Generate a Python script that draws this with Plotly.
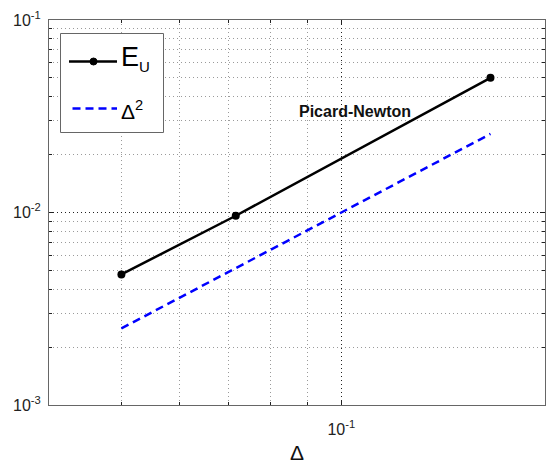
import math
import plotly.graph_objects as go

# Mesh size and measured error (log-log convergence study)
delta = [0.05, 0.0717, 0.16]
error_u = [0.00477, 0.00962, 0.0501]
# Reference slope-2 line: delta squared
delta_sq = [0.0025, 0.00514, 0.0256]

x_range = [0.0398, 0.19]
y_range = [1e-3, 1e-1]
x_major = [0.1]
x_major_text = ["10<sup>-1</sup>"]
y_major = [1e-3, 1e-2, 1e-1]
y_major_text = ["10<sup>-3</sup>", "10<sup>-2</sup>", "10<sup>-1</sup>"]
x_minor = [0.05, 0.06, 0.07, 0.08, 0.09]
y_minor = [2e-3, 3e-3, 4e-3, 5e-3, 6e-3, 7e-3, 8e-3, 9e-3,
           2e-2, 3e-2, 4e-2, 5e-2, 6e-2, 7e-2, 8e-2, 9e-2]

FONT = "Liberation Sans, Arial, Helvetica, sans-serif"

fig = go.Figure()
fig.add_trace(go.Scatter(
    x=delta, y=error_u, mode="lines+markers", name="E_U",
    line=dict(color="black", width=2.5),
    marker=dict(color="black", size=8),
))
fig.add_trace(go.Scatter(
    x=delta, y=delta_sq, mode="lines", name="Δ²",
    line=dict(color="#0000ff", width=2.5, dash="8px,5px"),
))

axis_common = dict(
    type="log",
    showline=True, linecolor="#666666", linewidth=1, mirror="allticks",
    ticks="inside", ticklen=5, tickcolor="#222222",
    showgrid=True, gridcolor="#222222", gridwidth=1, griddash="1px,3px",
    zeroline=False,
    tickfont=dict(family=FONT, size=16, color="#222222"),
)

fig.update_xaxes(
    **axis_common,
    range=[math.log10(x_range[0]), math.log10(x_range[1])],
    tickmode="array", tickvals=x_major, ticktext=x_major_text,
    ticklabelstandoff=10,
    minor=dict(tickmode="array", tickvals=x_minor, ticks="inside", ticklen=3,
               tickcolor="#222222", showgrid=True, gridcolor="#9a9a9a",
               griddash="1px,3px", gridwidth=1),
    title=dict(text="Δ", font=dict(family=FONT, size=21, color="#111111"), standoff=10),
)
fig.update_yaxes(
    **axis_common,
    range=[math.log10(y_range[0]), math.log10(y_range[1])],
    tickmode="array", tickvals=y_major, ticktext=y_major_text,
    ticklabelstandoff=4,
    minor=dict(tickmode="array", tickvals=y_minor, ticks="inside", ticklen=3,
               tickcolor="#222222", showgrid=True, gridcolor="#9a9a9a",
               griddash="1px,3px", gridwidth=1),
)

# Hand-drawn legend box in the upper-left corner of the axes
def px_x(p):
    return (p - 49) / 496.0

def px_y(p):
    return (405 - p) / 385.0

shapes = [
    dict(type="rect", xref="paper", yref="paper",
         x0=px_x(60.5), x1=px_x(163.5), y0=px_y(132.5), y1=px_y(33.5),
         line=dict(color="#666666", width=1), fillcolor="white", layer="above"),
    dict(type="line", xref="paper", yref="paper",
         x0=px_x(69), x1=px_x(117), y0=px_y(61.5), y1=px_y(61.5),
         line=dict(color="black", width=2.5), layer="above"),
    dict(type="circle", xref="paper", yref="paper",
         x0=px_x(90), x1=px_x(97), y0=px_y(65), y1=px_y(58),
         line=dict(color="black", width=1), fillcolor="black", layer="above"),
    dict(type="line", xref="paper", yref="paper",
         x0=px_x(72.5), x1=px_x(117), y0=px_y(108.5), y1=px_y(108.5),
         line=dict(color="#0000ff", width=2.5, dash="8px,5px"), layer="above"),
]

annotations = [
    dict(xref="paper", yref="paper", x=px_x(119), y=px_y(58),
         text="E<sub><span style='font-size:15px'>U</span></sub>",
         showarrow=False, xanchor="left", yanchor="middle",
         font=dict(family=FONT, size=27, color="black")),
    dict(xref="paper", yref="paper", x=px_x(119), y=px_y(110),
         text="Δ<sup>2</sup>", showarrow=False, xanchor="left", yanchor="middle",
         font=dict(family=FONT, size=21, color="black")),
    dict(xref="x", yref="y", x=math.log10(0.1044), y=math.log10(0.0333),
         text="<b>Picard-Newton</b>", showarrow=False, xanchor="center", yanchor="middle",
         font=dict(family=FONT, size=16, color="#111111")),
]

fig.update_layout(
    width=546, height=464,
    margin=dict(l=49, r=1, t=20, b=59),
    paper_bgcolor="white", plot_bgcolor="white",
    showlegend=False,
    shapes=shapes,
    annotations=annotations,
)

fig.write_html("out.html")
